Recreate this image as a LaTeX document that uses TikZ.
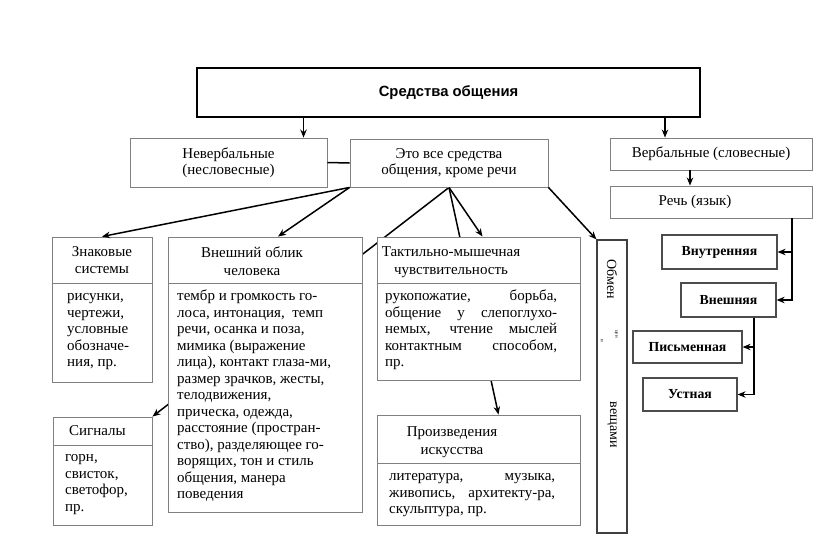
\documentclass[tikz,border=0pt]{standalone}
\usepackage{fontspec}
\setmainfont{Liberation Serif}
\newfontfamily\headfont{Liberation Sans}
\usepackage{tikz}
\usetikzlibrary{arrows, arrows.meta, backgrounds}
\tikzstyle{topbox} = [rectangle, draw=black, line width=2.2pt, fill=white, inner sep=0pt, font=\headfont\bfseries\fontsize{14.8}{17}\selectfont]
\tikzstyle{frame} = [rectangle, draw=black!50, line width=0.9pt, fill=white, inner sep=0pt, align=center, font=\fontsize{15}{16.5}\selectfont]
\tikzstyle{rbox} = [rectangle, draw=black!70, line width=1.2pt, fill=white, inner sep=0pt, font=\bfseries\fontsize{13.8}{16}\selectfont]
\tikzstyle{headtxt} = [inner sep=0pt, align=center, font=\fontsize{15}{17.5}\selectfont]
\tikzstyle{bodytxt} = [anchor=north west, inner sep=0pt, align=left, font=\fontsize{15}{16.5}\selectfont]
\tikzstyle{vtxt} = [rotate=-90, inner sep=0pt, font=\fontsize{14}{16}\selectfont]
\tikzstyle{line} = [line width=1.5pt]
\tikzstyle{arrow} = [line width=1.5pt,-{Stealth[length=8pt,width=6.5pt]}]

\begin{document}
\begin{tikzpicture}[x=1pt, y=-1pt]
	\useasboundingbox (0,0) rectangle (816,549);
	% top level
	\node (sredstva) [topbox, minimum width=503, minimum height=49] at (448.5,92.5) {Средства общения\hspace{10pt}};
	\node (nonverb) [frame, minimum width=197, minimum height=49] at (228.5,162.5) {Невербальные\\(несловесные)};
	\node (eto) [frame, minimum width=198, minimum height=48] at (449,163) {Это все средства\\общения, кроме речи};
	\node (verb) [frame, minimum width=202, minimum height=32] at (711,154) {Вербальные (словесные)};
	\node (rech) [frame, minimum width=202, minimum height=32] at (711,202) {Речь (язык)\hspace{32pt}};
	% speech kinds
	\node (vnutr) [rbox, minimum width=115, minimum height=34] at (719.5,252) {Внутренняя};
	\node (vnesh) [rbox, minimum width=95, minimum height=34] at (728.5,300) {Внешняя};
	\node (pism) [rbox, minimum width=109, minimum height=32] at (687.5,347) {Письменная\hspace{18pt}};
	\node (ustn) [rbox, minimum width=94, minimum height=33] at (690,394.5) {Устная\hspace{6pt}};
	% sign systems
	\node (znhd) [frame, minimum width=100, minimum height=46] at (102,260) {Знаковые\\системы};
	\node (znbd) [frame, minimum width=100, minimum height=99] at (102,332.5) {};
	\node (znbd-t) [bodytxt] at (67,289) {\strut рисунки,\\чертежи,\\условные\\обозначе-\\ния, пр.};
	% appearance
	\node (vohd) [frame, minimum width=194, minimum height=46] at (265,260) {};
	\node (vohd-t) [headtxt] at (252,261) {Внешний облик\\человека};
	\node (vobd) [frame, minimum width=194, minimum height=229] at (265,397.5) {};
	\node (vobd-t) [bodytxt] at (177,289) {\strut тембр и громкость го-\\лоса, интонация,\ \ темп\\речи, осанка и поза,\\мимика (выражение\\лица), контакт глаза-ми,\\размер зрачков, жесты,\\телодвижения,\\прическа, одежда,\\расстояние (простран-\\ство), разделяющее го-\\ворящих, тон и стиль\\общения, манера\\поведения};
	% signals
	\node (sighd) [frame, minimum width=99, minimum height=28] at (102.5,431) {Сигналы\hspace{10pt}};
	\node (sigbd) [frame, minimum width=99, minimum height=80] at (102.5,485) {};
	\node (sigbd-t) [bodytxt] at (65,450) {\strut горн,\\свисток,\\светофор,\\пр.};
	% tactile
	\node (tacthd) [frame, minimum width=203, minimum height=46] at (478.5,260) {};
	\node (tacthd-t) [headtxt] at (451,262) {Тактильно-мышечная\\чувствительность};
	\node (tactbd) [frame, minimum width=203, minimum height=97] at (478.5,331.5) {};
	\node (tactbd-t) [bodytxt, text width=172, align=justify] at (385,289) {\hyphenpenalty=10000\relax\strut рукопожатие, борьба,\linebreak общение у слепоглухо-\linebreak немых, чтение мыслей\linebreak контактным способом,\linebreak пр.};
	% art
	\node (proizhd) [frame, minimum width=203, minimum height=48] at (478.5,439) {};
	\node (proizhd-t) [headtxt] at (452,442) {Произведения\\искусства};
	\node (proizbd) [frame, minimum width=203, minimum height=62] at (478.5,494) {};
	\node (proizbd-t) [bodytxt, text width=166, align=justify] at (389,469) {\hyphenpenalty=10000\relax\strut литература, музыка,\linebreak живопись, архитекту-ра,\linebreak скульптура, пр.};
	% exchange of things
	\node (obm) [rectangle, draw=black!75, line width=1.2pt, fill=white, minimum width=30, minimum height=293] at (612,386.5) {};
	\node (obm-t1) [vtxt] at (612,279) {Обмен};
	\node (obm-t2) [vtxt, font=\fontsize{5}{6}\selectfont] at (616,334) {цен};
	\node (obm-t3) [vtxt, font=\fontsize{5}{6}\selectfont] at (602,341) {и};
	\node (obm-t4) [vtxt] at (612,425) {вещами};
	% connectors
	\draw [arrow] ([xshift=75]nonverb.north |- sredstva.south) -- ([xshift=75]nonverb.north);
	\draw [arrow] ([xshift=-46]verb.north |- sredstva.south) -- ([xshift=-46]verb.north);
	\draw [line] (nonverb.east) -- (eto.west);
	\draw [arrow] ([xshift=-21]verb.south) -- ([xshift=-21]rech.north);
	\coordinate (rechout) at ([xshift=81]rech.south);
	\draw [arrow] (rechout) |- (vnutr.east);
	\draw [arrow] (rechout) |- (vnesh.east);
	\coordinate (vneshout) at ([xshift=25.5]vnesh.south);
	\draw [arrow] (vneshout) |- (pism.east);
	\draw [arrow] (vneshout) |- (ustn.east);
	\draw [arrow] (eto.south west) -- (znhd.north);
	\draw [arrow] (eto.south west) -- ([xshift=13]vohd.north);
	\draw [arrow] (eto.south) -- ([xshift=4]tacthd.north);
	\draw [arrow] (eto.south east) -- (obm.north west);
	\begin{pgfonlayer}{background}
		\draw [arrow] (eto.south) -- (sighd.north east);
		\draw [arrow] (eto.south) -- ([xshift=20]proizhd.north);
	\end{pgfonlayer}
\end{tikzpicture}
\end{document}
